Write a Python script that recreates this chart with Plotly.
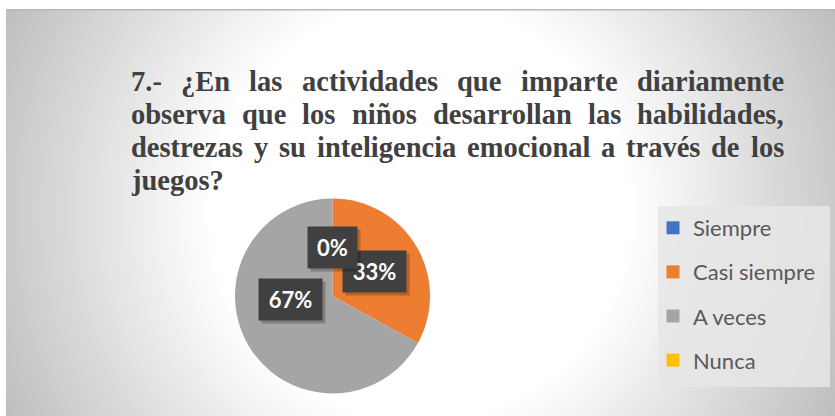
import base64
import math
import plotly.graph_objects as go

W, H = 835, 416

# ---------------- data ----------------
categories = ["Siempre", "Casi siempre", "A veces", "Nunca"]
values = [0, 33, 67, 0]
colors = ["#4472C4", "#ED7D31", "#A5A5A5", "#FFC000"]
title_lines = [
    "7.- ¿En las actividades que imparte diariamente",
    "observa que los niños desarrollan las habilidades,",
    "destrezas y su inteligencia emocional a través de los",
    "juegos?",
]

# ---------------- helpers ----------------
def px_x(p):
    return p / W


def px_y(p):
    return 1 - p / H


# Times Bold advance widths (1/1000 em) for justification of the title
TB = {'7': 500, '.': 250, '-': 333, '¿': 500, 'E': 667, 'n': 556, 'l': 278, 'a': 500,
      's': 389, 'c': 444, 't': 333, 'i': 278, 'v': 500, 'd': 556, 'e': 444, 'q': 556,
      'u': 556, 'm': 833, 'p': 556, 'r': 444, 'o': 500, 'b': 556, 'ñ': 556, 'h': 556,
      ',': 250, 'z': 444, 'y': 500, 'g': 500, 'é': 444, 'j': 333, '?': 500, ' ': 250}


def wwidth(word, size):
    return sum(TB.get(ch, 500) for ch in word) * size / 1000.0


# ---------------- background (radial gradient) ----------------
BG_X0, BG_Y0 = 6, 9
BW, BH = W - BG_X0, H - BG_Y0
svg = (
    f"<svg xmlns='http://www.w3.org/2000/svg' width='{BW}' height='{BH}' "
    f"viewBox='0 0 {BW} {BH}' preserveAspectRatio='none'>"
    f"<defs><radialGradient id='g' gradientUnits='userSpaceOnUse' cx='{BW/2}' cy='{BH/2}' r='462'>"
    "<stop offset='0' stop-color='#ffffff'/><stop offset='0.45' stop-color='#ffffff'/>"
    "<stop offset='1' stop-color='#bebebe'/></radialGradient></defs>"
    f"<rect width='{BW}' height='{BH}' fill='url(#g)'/>"
    f"<rect x='0' y='0' width='{BW}' height='1.5' fill='#b8b8b8'/>"
    "</svg>"
)
src = "data:image/svg+xml;base64," + base64.b64encode(svg.encode()).decode()

fig = go.Figure()

# ---------------- pie ----------------
PIE_CX, PIE_CY, PIE_R = 332.5, 296.0, 97.5
fig.add_trace(go.Pie(
    labels=categories, values=values, sort=False, direction="clockwise", rotation=0,
    marker=dict(colors=colors, line=dict(width=0)),
    textinfo="none", hoverinfo="label+percent", showlegend=False,
    domain=dict(x=[px_x(PIE_CX - PIE_R), px_x(PIE_CX + PIE_R)],
                y=[px_y(PIE_CY + PIE_R), px_y(PIE_CY - PIE_R)]),
))

# ---------------- legend (dummy traces to control spacing) ----------------
for c, col in zip(categories, colors):
    fig.add_trace(go.Scatter(x=[None], y=[None], mode="markers", name=c, legendgroup=c,
                             marker=dict(symbol="square", size=13, color=col),
                             hoverinfo="skip"))

annotations = []

# ---------------- data labels ----------------
total = sum(values)
cum = 0.0
placed = []
for i, v in enumerate(values):
    frac = v / total
    mid = (cum + frac / 2) * 2 * math.pi
    cum += frac
    lx = PIE_CX + 0.5 * PIE_R * math.sin(mid)
    ly = PIE_CY - 0.5 * PIE_R * math.cos(mid)
    key = (round(lx), round(ly))
    if key in [p[0] for p in placed]:
        continue  # identical position (hidden underneath in the reference)
    placed.append((key, lx, ly, f"{round(frac*100)}%"))

# draw the first slice's label last so it sits on top
for _, lx, ly, txt in reversed(placed):
    bw = 21 + 14 * len(txt)
    annotations.append(dict(x=px_x(lx), y=px_y(ly), xref="paper", yref="paper",
                            text="&nbsp;", showarrow=False, xshift=3, yshift=-3,
                            width=bw, height=41, borderpad=0,
                            bgcolor="rgba(0,0,0,0.22)",
                            font=dict(family="Lato", size=22, color="rgba(0,0,0,0)")))
    annotations.append(dict(x=px_x(lx), y=px_y(ly), xref="paper", yref="paper",
                            text=txt, showarrow=False,
                            width=bw, height=41, borderpad=0,
                            bgcolor="#404040",
                            font=dict(family="Lato", size=22, color="white", weight="bold")))

# ---------------- title (justified word by word) ----------------
T_SIZE = 28.5
T_LEFT, T_RIGHT = 130, 783
T_BASE0, T_STEP = 90.5, 33.0
for li, line in enumerate(title_lines):
    words = line.split(" ")
    widths = [wwidth(w, T_SIZE) for w in words]
    last = li == len(title_lines) - 1
    if last or len(words) == 1:
        gap = wwidth(" ", T_SIZE)
    else:
        gap = (T_RIGHT - T_LEFT - sum(widths)) / (len(words) - 1)
    x = T_LEFT
    base = T_BASE0 + li * T_STEP
    for w, ww in zip(words, widths):
        annotations.append(dict(x=px_x(x), y=px_y(base - 0.3 * T_SIZE), xref="paper", yref="paper",
                                xanchor="left", yanchor="middle", text=w, showarrow=False,
                                borderpad=0,
                                font=dict(family="Liberation Serif", size=T_SIZE, color="#404040",
                                          weight="bold")))
        x += ww + gap

fig.update_layout(
    width=W, height=H,
    margin=dict(l=0, r=0, t=0, b=0),
    paper_bgcolor="white", plot_bgcolor="rgba(0,0,0,0)",
    xaxis=dict(visible=False, domain=[0, 1]),
    yaxis=dict(visible=False, domain=[0, 1]),
    images=[dict(source=src, xref="paper", yref="paper", x=px_x(BG_X0), y=px_y(BG_Y0),
                 sizex=BW / W, sizey=BH / H, xanchor="left", yanchor="top",
                 sizing="stretch", layer="below")],
    shapes=[dict(type="rect", xref="paper", yref="paper",
                 x0=px_x(658), x1=px_x(830), y0=px_y(387), y1=px_y(206),
                 fillcolor="rgba(230,230,230,0.85)", line=dict(width=0), layer="below")],
    legend=dict(x=px_x(653), y=px_y(207), xanchor="left", yanchor="top",
                bgcolor="rgba(0,0,0,0)", tracegroupgap=12.5, itemwidth=30,
                font=dict(family="Lato", size=22, color="#595959")),
    annotations=annotations,
    showlegend=True,
)

fig.write_html("out.html")
